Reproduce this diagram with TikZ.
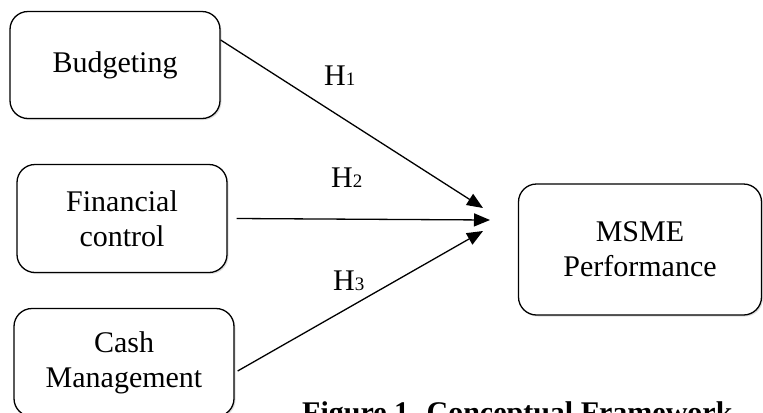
\documentclass[tikz,border=0pt]{standalone}
\usepackage{fontspec}
\setmainfont{Liberation Serif}
\usetikzlibrary{arrows.meta,shadows}
\begin{document}
\begin{tikzpicture}[x=1bp,y=-1bp,
  box/.style={draw=black,line width=1.3bp,rounded corners=18bp,fill=white,
    align=center,inner sep=0pt,
    font=\fontsize{30bp}{35bp}\selectfont,
    drop shadow={shadow xshift=1.5bp,shadow yshift=-1.5bp,opacity=0.25}},
  arr/.style={line width=1.3bp,-{Triangle[length=16bp,width=13bp]}},
  hlab/.style={anchor=base west,inner sep=0pt,font=\fontsize{30bp}{35bp}\selectfont},
  figcaption/.style={anchor=base west,inner sep=0pt,font=\fontsize{30bp}{35bp}\selectfont\bfseries}]
\path[use as bounding box,clip] (0,0) rectangle (763,412);
\node[box,minimum width=210bp,minimum height=107bp] (bud) at (115,65) {Budgeting};
\node[box,minimum width=210bp,minimum height=108bp] (fin) at (122,218.5) {Financial\\control};
\node[box,minimum width=220bp,minimum height=108bp] (cash) at (124,362.5) {Cash\\Management};
\node[box,minimum width=243bp,minimum height=131bp] (msme) at (640,249.5) {MSME\\Performance};
\coordinate (t1) at (483,208);
\coordinate (t2) at (490,220);
\coordinate (t3) at (483,231);
\draw[arr] ([yshift=25bp]bud.east) -- (t1);
\draw[arr] ([xshift=9bp]fin.east) -- (t2);
\draw[arr] ([xshift=3bp,yshift=-8.5bp]cash.east) -- (t3);
\node[hlab] (h1) at (324,85) {H{\fontsize{19bp}{19bp}\selectfont 1}};
\node[hlab] (h2) at (331,187) {H{\fontsize{19bp}{19bp}\selectfont 2}};
\node[hlab] (h3) at (333,290) {H{\fontsize{19bp}{19bp}\selectfont 3}};
\node[figcaption] (caption) at (302,422) {Figure 1. Conceptual Framework};
\end{tikzpicture}
\end{document}
